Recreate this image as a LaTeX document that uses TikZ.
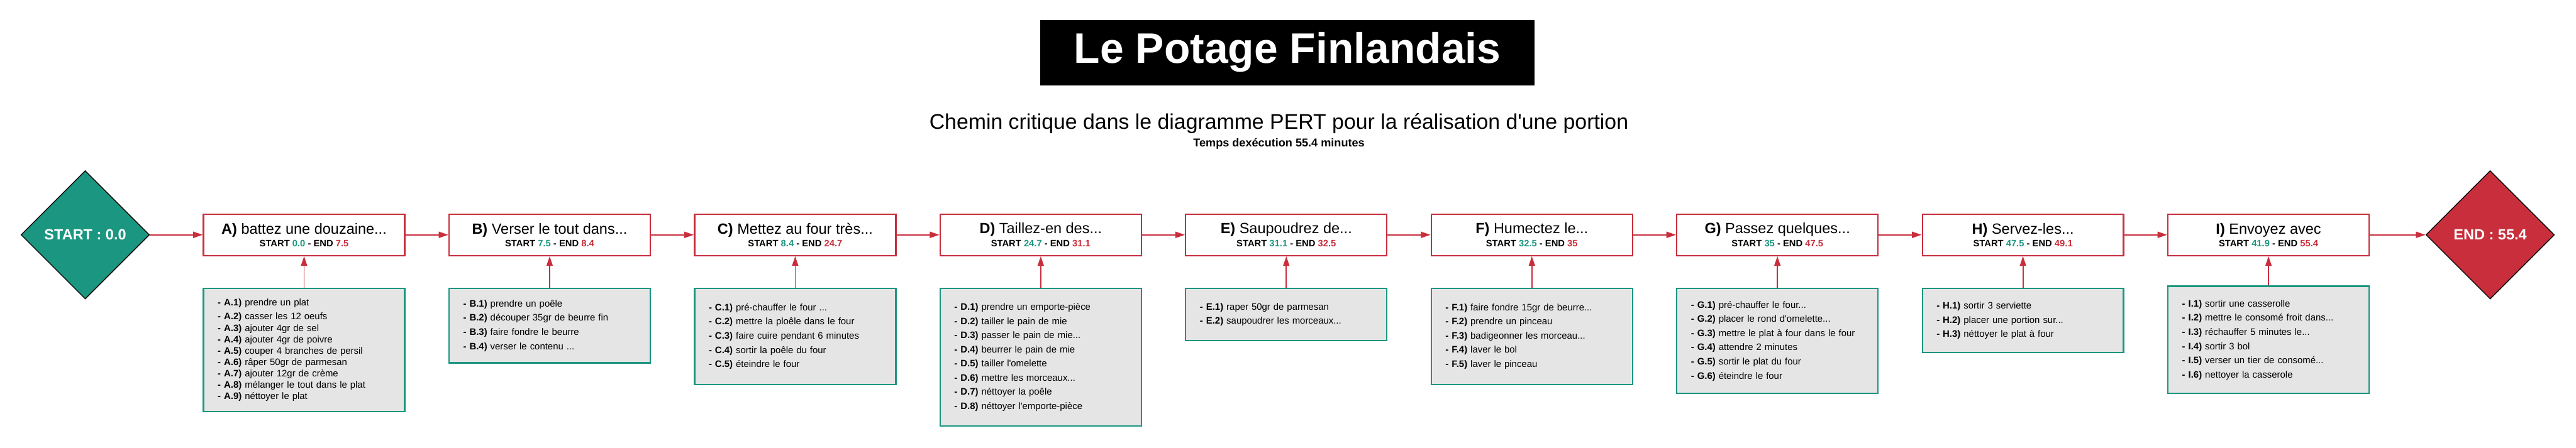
\documentclass[tikz,border=0pt]{standalone}
\usepackage{fontspec}
\setmainfont{Liberation Sans}
\usetikzlibrary{arrows.meta,shapes.geometric,positioning}
\definecolor{pertteal}{RGB}{27,150,128}
\definecolor{pertred}{RGB}{200,46,60}
\definecolor{pertgrey}{RGB}{229,229,229}

% title and dates of one task
\newcommand{\tache}[4]{{\fontsize{14.8}{17}\selectfont\textbf{#1)} #2}\\
  {\bfseries START \textcolor{pertteal}{#3} - END \textcolor{pertred}{#4}}}
% one line of a list of steps
\newcommand{\etape}[2]{\textbf{- #1)} #2}

\begin{document}
\begin{tikzpicture}[
  title/.style={fill=black, text=white, minimum width=17.4cm, minimum height=2.3cm,
    font=\fontsize{42.7}{50}\selectfont\bfseries},
  task/.style={draw=pertred, line width=0.05cm, fill=white, minimum width=7.08cm,
    minimum height=1.46cm, inner sep=0pt, align=center, font=\fontsize{9.3}{12.8}\selectfont},
  steps/.style={draw=pertteal, line width=0.05cm, fill=pertgrey, text width=6.08cm,
    inner xsep=0.5cm, inner ysep=0.2cm, align=left, font=\fontsize{9.4}{14.2}\selectfont},
  milestone/.style={diamond, draw=black, line width=0.03cm, minimum width=4.52cm,
    minimum height=4.52cm, inner sep=0pt, text=white, font=\fontsize{14.8}{17}\selectfont\bfseries},
  flow/.style={pertred, line width=0.04cm, -{Triangle[length=0.34cm,width=0.22cm]}}
]
  \useasboundingbox (0,0) rectangle (90.64,-15.76);

  \node[title] (titre) at (45.3,-1.85) {Le Potage Finlandais};
  \node[font=\fontsize{21.3}{25}\selectfont] (soustitre) at (45.0,-4.34)
    {Chemin critique dans le diagramme PERT pour la réalisation d\textquotesingle une portion};
  \node[font=\fontsize{11.4}{14}\selectfont\bfseries] (duree) at (45.0,-5.06)
    {Temps dexécution 55.4 minutes};

  % critical path
  \node[milestone, fill=pertteal] (start) at (3.0,-8.27) {START : 0.0};
  \node[task] (A) at (10.7,-8.27) {\tache{A}{battez une douzaine...}{0.0}{7.5}};
  \node[task, right=1.51cm of A] (B) {\tache{B}{Verser le tout dans...}{7.5}{8.4}};
  \node[task, right=1.51cm of B] (C) {\tache{C}{Mettez au four très...}{8.4}{24.7}};
  \node[task, right=1.51cm of C] (D) {\tache{D}{Taillez-en des...}{24.7}{31.1}};
  \node[task, right=1.51cm of D] (E) {\tache{E}{Saupoudrez de...}{31.1}{32.5}};
  \node[task, right=1.51cm of E] (F) {\tache{F}{Humectez le...}{32.5}{35}};
  \node[task, right=1.51cm of F] (G) {\tache{G}{Passez quelques...}{35}{47.5}};
  \node[task, right=1.51cm of G] (H) {\tache{H}{Servez-les...}{47.5}{49.1}};
  \node[task, right=1.51cm of H] (I) {\tache{I}{Envoyez avec}{41.9}{55.4}};
  \node[milestone, fill=pertred, right=1.96cm of I] (finish) {END : 55.4};

  \draw[flow] (start) -- (A);
  \draw[flow] (A) -- (B);
  \draw[flow] (B) -- (C);
  \draw[flow] (C) -- (D);
  \draw[flow] (D) -- (E);
  \draw[flow] (E) -- (F);
  \draw[flow] (F) -- (G);
  \draw[flow] (G) -- (H);
  \draw[flow] (H) -- (I);
  \draw[flow] (I) -- (finish);

  % steps of each task
  \node[steps, font=\fontsize{9.4}{11.4}\selectfont, minimum height=4.34cm, below=1.11cm of A] (Alist)
    {\etape{A.1}{prendre un plat}\\[2.8pt]
     \etape{A.2}{casser les 12 oeufs}\\
     \etape{A.3}{ajouter 4gr de sel}\\
     \etape{A.4}{ajouter 4gr de poivre}\\
     \etape{A.5}{couper 4 branches de persil}\\
     \etape{A.6}{râper 50gr de parmesan}\\
     \etape{A.7}{ajouter 12gr de crème}\\
     \etape{A.8}{mélanger le tout dans le plat}\\
     \etape{A.9}{néttoyer le plat}};
  \node[steps, minimum height=2.62cm, below=1.11cm of B] (Blist)
    {\etape{B.1}{prendre un poêle}\\
     \etape{B.2}{découper 35gr de beurre fin}\\
     \etape{B.3}{faire fondre le beurre}\\
     \etape{B.4}{verser le contenu ...}};
  \node[steps, minimum height=3.38cm, below=1.11cm of C] (Clist)
    {\etape{C.1}{pré-chauffer le four ...}\\
     \etape{C.2}{mettre la ploêle dans le four}\\
     \etape{C.3}{faire cuire pendant 6 minutes}\\
     \etape{C.4}{sortir la poêle du four}\\
     \etape{C.5}{éteindre le four}};
  \node[steps, minimum height=4.84cm, below=1.11cm of D] (Dlist)
    {\etape{D.1}{prendre un emporte-pièce}\\
     \etape{D.2}{tailler le pain de mie}\\
     \etape{D.3}{passer le pain de mie...}\\
     \etape{D.4}{beurrer le pain de mie}\\
     \etape{D.5}{tailler l\textquotesingle omelette}\\
     \etape{D.6}{mettre les morceaux...}\\
     \etape{D.7}{néttoyer la poêle}\\
     \etape{D.8}{néttoyer l\textquotesingle emporte-pièce}};
  \node[steps, minimum height=1.84cm, below=1.11cm of E] (Elist)
    {\etape{E.1}{raper 50gr de parmesan}\\
     \etape{E.2}{saupoudrer les morceaux...}};
  \node[steps, minimum height=3.38cm, below=1.11cm of F] (Flist)
    {\etape{F.1}{faire fondre 15gr de beurre...}\\
     \etape{F.2}{prendre un pinceau}\\
     \etape{F.3}{badigeonner les morceau...}\\
     \etape{F.4}{laver le bol}\\
     \etape{F.5}{laver le pinceau}};
  \node[steps, minimum height=3.70cm, below=1.11cm of G] (Glist)
    {\etape{G.1}{pré-chauffer le four...}\\
     \etape{G.2}{placer le rond d\textquotesingle omelette...}\\
     \etape{G.3}{mettre le plat à four dans le four}\\
     \etape{G.4}{attendre 2 minutes}\\
     \etape{G.5}{sortir le plat du four}\\
     \etape{G.6}{éteindre le four}};
  \node[steps, minimum height=2.26cm, below=1.11cm of H] (Hlist)
    {\etape{H.1}{sortir 3 serviette}\\
     \etape{H.2}{placer une portion sur...}\\
     \etape{H.3}{néttoyer le plat à four}};
  \node[steps, minimum height=3.78cm, below=1.03cm of I] (Ilist)
    {\etape{I.1}{sortir une casserolle}\\
     \etape{I.2}{mettre le consomé froit dans...}\\
     \etape{I.3}{réchauffer 5 minutes le...}\\
     \etape{I.4}{sortir 3 bol}\\
     \etape{I.5}{verser un tier de consomé...}\\
     \etape{I.6}{nettoyer la casserole}};

  \draw[flow] (Alist) -- (A);
  \draw[flow] (Blist) -- (B);
  \draw[flow] (Clist) -- (C);
  \draw[flow] (Dlist) -- (D);
  \draw[flow] (Elist) -- (E);
  \draw[flow] (Flist) -- (F);
  \draw[flow] (Glist) -- (G);
  \draw[flow] (Hlist) -- (H);
  \draw[flow] (Ilist) -- (I);
\end{tikzpicture}
\end{document}
